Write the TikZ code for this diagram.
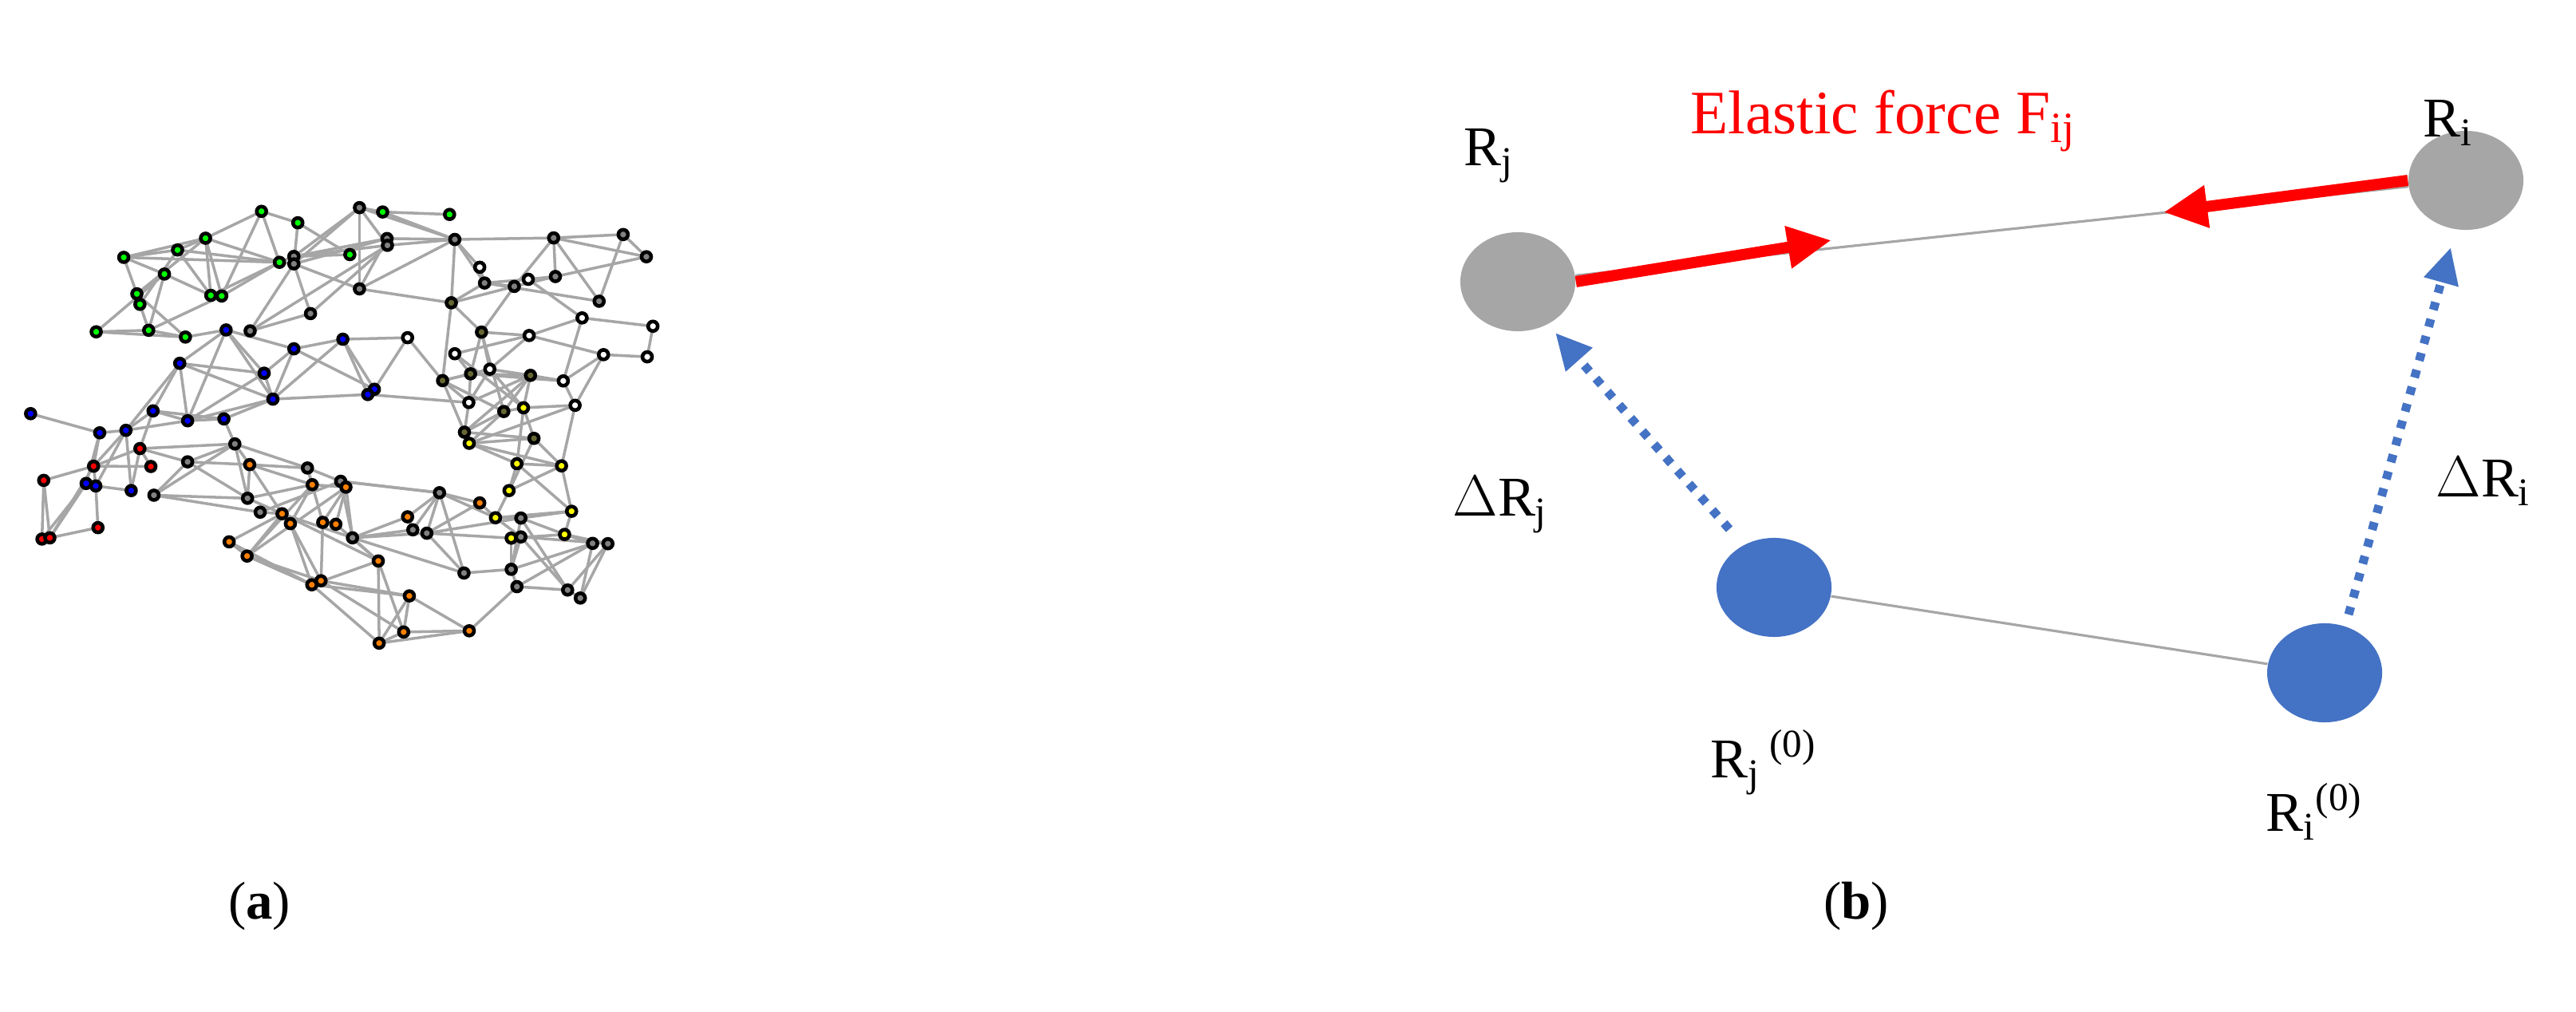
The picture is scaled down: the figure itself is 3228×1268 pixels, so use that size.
\documentclass[tikz,border=0pt]{standalone}
\usepackage{fontspec}
\setmainfont{Liberation Serif}
\usetikzlibrary{arrows.meta,backgrounds,shapes.geometric}
\definecolor{gk}{HTML}{808080}
\definecolor{ol}{HTML}{666633}
\definecolor{gn}{HTML}{00FF00}
\definecolor{bl}{HTML}{0000FF}
\definecolor{rd}{HTML}{FF0000}
\definecolor{og}{HTML}{FF8000}
\definecolor{yl}{HTML}{FFFF00}
\definecolor{wt}{HTML}{FFFFFF}
\definecolor{ballgray}{HTML}{A6A6A6}
\definecolor{ballblue}{HTML}{4472C4}
\definecolor{forcered}{HTML}{FF0000}
\tikzset{
  nd/.style={circle,draw=black,line width=1.3pt,inner sep=0pt,minimum size=0.12cm},
  ed/.style={draw=black!35,line width=1pt},
  ball/.style={ellipse,inner sep=0pt,minimum width=1.44cm,minimum height=1.24cm},
  lbl/.style={font=\fontsize{20}{22}\selectfont,inner sep=0pt},
  thinln/.style={draw=black!35,line width=0.9pt},
  force/.style={forcered,line width=0.14cm,-{Triangle[length=0.55cm,width=0.5cm]}},
  disp/.style={ballblue,line width=0.11cm,dash pattern=on 0.1cm off 0.12cm,-{Triangle[length=0.45cm,width=0.42cm]}},
  captxt/.style={font=\fontsize{19}{22}\selectfont,inner sep=0pt}
}
\begin{document}
\begin{tikzpicture}[x=0.01cm,y=-0.01cm]
\useasboundingbox (0,0) rectangle (3228,1268);
\begin{scope}[shift={(0,230)},xscale=0.548,yscale=0.387]
\foreach \n/\x/\y/\c in {
g1/598/90/gn,g2/681/127/gn,g3/470/177/gn,g4/406/215/gn,g5/283/239/gn,g6/376/293/gn,g7/313/357/gn,g8/320/391/gn,g9/482/362/gn,g10/507/364/gn,g11/639/255/gn,g12/800/230/gn,g13/875/92/gn,g14/1028/100/gn,g15/220/480/gn,g16/340/475/gn,g17/424/497/gn,
k1/822/78/gk,k2/885/178/gk,k3/886/200/gk,k4/672/236/gk,k5/672/260/gk,k6/1040/181/gk,k7/1266/176/gk,k8/1425/165/gk,k9/1478/237/gk,k10/1270/301/gk,k11/1176/333/gk,k12/1108/322/gk,k13/1370/381/gk,k14/822/341/gk,k15/710/421/gk,k16/572/477/gk,
w1/1097/271/wt,w2/1208/310/wt,w3/1331/435/wt,w4/1493/462/wt,w5/1210/492/wt,w6/932/499/wt,w7/1040/551/wt,w8/1120/601/wt,w9/1380/554/wt,w10/1480/561/wt,w11/1288/639/wt,w12/1072/709/wt,w13/1315/718/wt,
o1/1032/386/ol,o2/1101/481/ol,o3/1012/638/ol,o4/1076/616/ol,o5/1213/621/ol,o6/1152/738/ol,o7/1062/805/ol,o8/1221/825/ol,
y1/1197/726/yl,y2/1073/841/yl,y3/1182/907/yl,y4/1284/914/yl,y5/1164/994/yl,y6/1307/1061/yl,y7/1133/1082/yl,y8/1291/1136/yl,y9/1169/1148/yl,
b1/517/474/bl,b2/672/535/bl,b3/784/504/bl,b4/411/582/bl,b5/604/614/bl,b6/624/698/bl,b7/856/666/bl,b8/841/683/bl,b9/350/736/bl,b10/429/768/bl,b11/512/762/bl,b12/288/799/bl,b13/228/807/bl,b14/70/745/bl,b15/197/971/bl,b16/219/979/bl,b17/300/994/bl,
r1/320/858/rd,r2/214/915/rd,r3/345/916/rd,r4/100/961/rd,r5/224/1114/rd,r6/96/1151/rd,r7/114/1147/rd,
m1/537/843/gk,m2/429/901/gk,m3/352/1009/gk,m4/566/1019/gk,m5/595/1064/gk,m6/703/921/gk,m7/779/964/gk,m8/1005/1001/gk,m9/806/1147/gk,m10/944/1121/gk,m11/976/1132/gk,m12/1191/1083/gk,m13/1191/1144/gk,m14/1355/1165/gk,m15/1390/1166/gk,m16/1061/1261/gk,m17/1169/1249/gk,m18/1182/1305/gk,m19/1298/1316/gk,m20/1327/1342/gk,
a1/571/910/og,a2/714/975/og,a3/791/983/og,a4/645/1069/og,a5/664/1101/og,a6/738/1097/og,a7/768/1103/og,a8/932/1079/og,a9/1097/1034/og,a10/524/1160/og,a11/565/1206/og,a12/865/1222/og,a13/713/1299/og,a14/734/1286/og,a15/936/1335/og,a16/923/1452/og,a17/1073/1448/og,a18/867/1488/og}
  \node[nd,fill=\c] (\n) at (\x,\y) {};
\begin{pgfonlayer}{background}
\foreach \a/\b in {g1/g3,g1/g2,g1/g11,g1/g10,g2/k5,g3/g5,g3/g4,g3/g9,g3/g10,g3/g11,g3/g7,g4/g5,g4/g9,g4/g8,g4/g11,g5/g6,g5/g7,g5/g11,g6/g9,g6/g16,g6/g15,g7/g8,g7/g17,g8/g16,g9/g10,g9/g11,g10/g11,g10/g16,g15/g16,g15/g17,g16/g17,g17/b1,g11/k4,g11/k5,g2/g12,
k1/k4,k1/k5,k1/k14,k1/g13,k1/k6,k1/k3,g13/g14,g13/k6,k4/k2,k4/k3,k5/k2,k4/g12,k5/k14,k5/k15,k5/k16,k2/k6,k3/k6,k2/k14,k3/k16,k3/k15,k6/k7,k6/o1,k6/w1,k6/k12,k6/k14,k7/k8,k7/k9,k7/k10,k7/k11,k7/k13,k8/k9,k8/k13,k9/k10,k10/k11,k10/w2,k11/k12,k11/o2,k12/w1,k12/o1,k12/w2,k12/k13,w2/w3,k14/o1,k15/k16,
w3/w4,w3/w5,w3/w11,w4/w10,w5/w7,w5/w9,w5/w8,w5/o2,w9/w10,w9/w11,w11/w13,w11/o5,w11/o4,w13/w9,w13/y1,w13/y4,w13/y2,w6/b3,w6/b7,w6/o3,w7/o4,w7/y1,w8/o5,w8/o3,w8/w12,w8/y1,
o1/o3,o1/o2,o1/k11,o2/o4,o2/o6,o2/w8,o3/o4,o3/w12,o3/o6,o3/o7,o4/o5,o4/w12,o5/o6,o5/w12,o5/o7,o5/y1,o6/y1,o6/o7,o6/y2,w12/o7,o7/o8,o7/y2,y1/o8,y1/y3,y2/o8,y2/y3,y2/y4,y3/y4,y3/y5,y3/y6,y4/y5,y4/y6,y4/o8,y5/y7,y5/o8,
y6/m12,y6/y7,y6/y8,y7/m8,y7/m13,y7/m12,y8/m14,y8/m15,y8/m12,y8/y9,y9/m13,y9/m17,y9/m11,m12/m17,m12/m19,m13/m17,m13/m19,m14/m17,m14/m18,m14/m20,m15/m20,m15/m19,m15/m13,m16/m17,m16/m11,m16/m9,m16/m8,m17/m18,m18/m19,m18/a17,m19/m20,
m8/m10,m8/m11,m8/a9,m8/m7,m8/a8,m9/m7,m9/a3,m9/a8,m9/m10,m9/m11,m9/a12,m9/a4,m10/a8,m11/m12,a9/y7,a9/m11,
b1/b4,b1/b5,b1/b6,b1/b2,b1/b10,b2/b3,b2/b5,b2/b6,b2/b7,b3/b7,b3/b8,b3/b6,b4/b5,b4/b10,b4/b6,b4/b12,b4/b9,b5/b6,b5/b10,b6/b8,b6/b10,b6/b11,b8/w12,b9/b10,b9/b11,b9/r1,b9/b12,b10/b11,b10/b12,b11/m1,b12/b13,b12/b16,b12/b17,b12/r2,b13/b14,b13/r2,b13/b15,
r1/r2,r1/m1,r1/r3,r1/m2,r1/b17,r2/r3,r2/r4,r2/b16,r2/r7,b15/b16,b15/r6,b16/r5,b16/b17,b15/r7,r4/r6,r4/r7,r5/r7,
m1/m2,m1/m3,m1/m4,m1/m6,m1/a1,m2/m3,m2/m4,m2/a1,m3/m4,m3/m5,a1/m6,a1/m4,a1/a2,a1/a4,m4/a2,m4/a4,m5/a4,m5/m7,m6/m7,m6/a2,m6/a6,a2/a3,a2/a5,a2/a11,a3/m7,a3/a6,a3/a7,a3/a11,a4/a5,a4/a10,a4/a11,a4/a12,a5/a13,a5/a14,a6/a14,a7/a12,m7/m8,a10/a11,a10/a13,a11/a13,a11/a14,a12/a13,a12/a18,a12/a16,a13/a15,a14/a15,a13/a18,a14/a16,a15/a16,a15/a17,a16/a17,a18/a16,a18/a17,a18/a15}
  \draw[ed] (\a.center) -- (\b.center);
\end{pgfonlayer}
\end{scope}
% panel (b)
\node[ball,fill=ballgray] (Rj) at (1902,353) {};
\node[ball,fill=ballgray] (Ri) at (3090,226) {};
\node[ball,fill=ballblue] (Rj0) at (2223,736) {};
\node[ball,fill=ballblue] (Ri0) at (2913,843) {};
\draw[thinln] (Rj) -- (Ri);
\draw[thinln] (Rj0) -- (Ri0);
\coordinate (fj) at (2295,301);
\coordinate (fi) at (2711,266);
\draw[force] (Rj.east) -- (fj);
\draw[force] (Ri.west) -- (fi);
\coordinate (dj) at (1949,417);
\coordinate (di) at (3071,310);
\draw[disp] (2167,663) -- (dj);
\draw[disp] (2943,770) -- (di);
\node[lbl] (lRj) at (1866,195) {R\textsubscript{j}};
\node[lbl] (lRi) at (3068,154) {R\textsubscript{i}};
\node[lbl,text=forcered,font=\fontsize{22}{24}\selectfont] (lF) at (2360,152) {Elastic force F\textsubscript{ij}};
\node[lbl] (ldj) at (1880,632) {$\Delta$R\textsubscript{j}};
\node[lbl] (ldi) at (3112,603) {$\Delta$R\textsubscript{i}};
\node[lbl] (lRj0) at (2210,955) {R\textsubscript{j}\,\textsuperscript{(0)}};
\node[lbl] (lRi0) at (2900,1017) {R\textsubscript{i}\textsuperscript{(0)}};
\node[captxt] (ca) at (325,1135) {(\textbf{a})};
\node[captxt] (cb) at (2326,1135) {(\textbf{b})};
\end{tikzpicture}
\end{document}
